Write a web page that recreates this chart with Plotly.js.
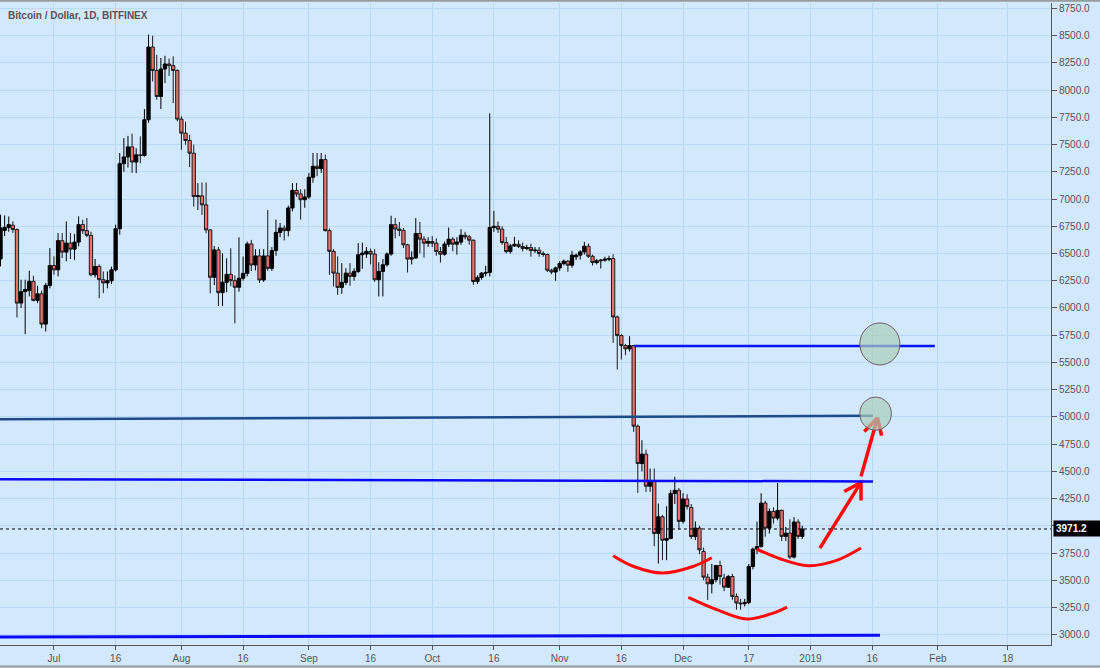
<!DOCTYPE html>
<html>
<head>
<meta charset="utf-8">
<script src="https://cdn.plot.ly/plotly-3.0.1.min.js"></script>
<style>
html,body{margin:0;padding:0;background:#d2e8fc;}
#chart{width:1100px;height:668px;}
</style>
</head>
<body>
<div id="chart"></div>
<script>
// ---- data (daily candles, Bitfinex BTC/USD, starting 2018-06-18) ----
const firstDay = [2018, 5, 18];
const opens = [
6450,6712,6740,6760,6720,6045,6150,6160,6245,6070,
6130,5852,6207,6390,6350,6618,6513,6596,6540,6605,
6765,6710,6667,6305,6382,6260,6230,6250,6350,6728,
7325,7387,7479,7340,7406,7400,7728,8396,8181,7942,
8194,8240,8225,8181,7734,7605,7538,7421,7023,7030,
6947,6717,6282,6533,6141,6236,6309,6251,6190,6273,
6318,6588,6395,6478,6257,6478,6364,6527,6694,6734,
6710,6918,7080,7047,6994,7019,7200,7301,7280,7362,
6710,6520,6320,6189,6235,6320,6290,6336,6489,6495,
6520,6495,6259,6336,6397,6495,6765,6725,6713,6580,
6449,6460,6684,6632,6595,6610,6595,6518,6494,6586,
6632,6586,6605,6668,6653,6622,6243,6280,6320,6326,
6739,6750,6724,6601,6518,6570,6585,6564,6546,6555,
6527,6531,6500,6491,6347,6330,6368,6408,6430,6393,
6470,6485,6515,6567,6475,6417,6433,6439,6448,6454,
5918,5747,5655,5625,5655,4915,4572,4658,4364,4413,
3930,4083,3868,3883,4297,4326,4041,4246,4169,3902,
3979,3765,3529,3468,3505,3636,3520,3437,3535,3352,
3291,3285,3297,3627,3786,3810,4209,3979,4132,4071,
4142,3903,3933,3713,4035,3903];
const highs = [
6857,6850,6840,6795,6730,6260,6260,6342,6296,6204,
6160,6230,6550,6474,6688,6688,6795,6690,6680,6841,
6810,6826,6700,6450,6400,6336,6336,6380,6765,7423,
7560,7580,7600,7467,7575,7826,8509,8500,8325,8295,
8316,8290,8310,8190,7760,7710,7590,7500,7146,7152,
7152,6720,6570,6560,6502,6456,6548,6300,6649,6472,
6610,6625,6540,6540,6540,6900,6560,6811,6780,6760,
6940,7148,7148,7090,7090,7240,7423,7423,7423,7408,
6730,6540,6474,6412,6365,6412,6365,6596,6600,6560,
6545,6540,6420,6450,6510,6847,6826,6790,6734,6590,
6520,6825,6790,6660,6650,6660,6640,6560,6610,6739,
6650,6650,6724,6700,6670,6630,6300,6330,6387,7787,
6892,6794,6750,6653,6590,6653,6622,6600,6580,6590,
6560,6560,6520,6500,6360,6380,6430,6445,6440,6524,
6500,6530,6607,6592,6490,6450,6450,6470,6480,6494,
5930,5760,5670,5741,5660,4930,4786,4700,4526,4526,
4205,4100,4180,4330,4450,4347,4300,4290,4200,4040,
4000,3800,3560,3650,3640,3680,3560,3550,3560,3380,
3330,3330,3650,3800,4040,4300,4230,4160,4170,4393,
4150,3990,4060,4080,4060,4000];
const lows = [
6382,6660,6700,6690,5913,6000,5760,6106,6060,6045,
5815,5784,6180,6305,6290,6458,6428,6450,6440,6566,
6680,6650,6290,6280,6090,6136,6180,6220,6335,6673,
7250,7290,7240,7238,7330,7390,7700,8080,7912,7826,
8065,8130,7881,7713,7452,7500,7293,6931,6900,6855,
6686,6135,6211,6018,6018,6145,6200,5860,6150,6250,
6290,6340,6345,6230,6240,6340,6340,6480,6650,6620,
6657,6887,7020,6811,6920,7000,7150,7210,7240,6703,
6305,6198,6121,6130,6210,6204,6250,6320,6360,6460,
6400,6240,6106,6106,6380,6480,6640,6660,6550,6325,
6400,6450,6500,6463,6560,6560,6480,6417,6480,6560,
6520,6490,6580,6630,6580,6212,6220,6260,6290,6290,
6700,6690,6580,6500,6500,6560,6550,6520,6530,6470,
6505,6470,6470,6330,6310,6250,6340,6390,6332,6370,
6440,6445,6490,6460,6390,6400,6362,6425,6430,5680,
5435,5527,5567,5600,4863,4303,4500,4312,4312,3813,
3654,3685,3685,3880,4200,3965,4020,4150,3880,3870,
3740,3500,3320,3380,3480,3460,3400,3430,3320,3230,
3230,3260,3280,3600,3740,3800,3900,3930,4020,4050,
3860,3860,3694,3700,3880,3880];
const closes = [
6735,6740,6765,6720,6045,6150,6170,6245,6070,6130,
5852,6207,6390,6350,6618,6513,6596,6540,6605,6765,
6710,6667,6305,6382,6260,6230,6250,6350,6728,7325,
7387,7479,7340,7406,7400,7728,8396,8181,7942,8194,
8240,8225,8181,7734,7605,7538,7421,7023,7030,6947,
6717,6282,6533,6141,6236,6309,6251,6190,6273,6318,
6588,6395,6478,6257,6478,6364,6527,6694,6734,6710,
6918,7080,7047,6994,7019,7200,7301,7280,7362,6710,
6520,6320,6189,6235,6320,6290,6336,6489,6504,6520,
6495,6259,6336,6397,6495,6765,6725,6713,6580,6449,
6460,6684,6632,6595,6610,6595,6518,6494,6586,6632,
6586,6605,6668,6653,6622,6243,6280,6320,6326,6739,
6750,6724,6601,6518,6570,6585,6564,6546,6555,6527,
6531,6500,6491,6347,6330,6368,6408,6430,6393,6485,
6485,6515,6567,6475,6417,6433,6439,6448,6454,5918,
5747,5655,5625,5655,4915,4572,4658,4364,4413,3930,
4083,3868,3883,4297,4326,4041,4246,4178,3902,3979,
3780,3529,3468,3505,3636,3535,3437,3535,3352,3291,
3285,3297,3627,3786,3810,4209,3979,4132,4071,4142,
3903,3933,3713,4035,3903,3971.2];

const lastPrice = 3971.2;
const xTickVals = ['2018-07-01','2018-07-16','2018-08-01','2018-08-16','2018-09-01','2018-09-16',
  '2018-10-01','2018-10-16','2018-11-01','2018-11-16','2018-12-01','2018-12-17',
  '2019-01-01','2019-01-16','2019-02-01','2019-02-18'];
const xTickText = ['Jul','16','Aug','16','Sep','16','Oct','16','Nov','16','Dec','17','2019','16','Feb','18'];
const yTickVals = [3000,3250,3500,3750,4000,4250,4500,4750,5000,5250,5500,5750,6000,6250,6500,6750,7000,7250,7500,7750,8000,8250,8500,8750];
const yTickText = ['3000.0','3250.0','3500.0','3750.0','','4250.0','4500.0','4750.0','5000.0','5250.0','5500.0','5750.0','6000.0','6250.0','6500.0','6750.0','7000.0','7250.0','7500.0','7750.0','8000.0','8250.0','8500.0','8750.0'];

// drawn levels (start date, start price, end date, end price)
const levelTop    = ['2018-11-19 02:00', 5652, '2019-01-31 06:00', 5652];
const levelNavy   = ['2018-06-17 21:00', 4979, '2019-01-16 05:00', 5011];
const levelBlue   = ['2018-06-17 21:00', 4428, '2019-01-16 05:00', 4408];
const levelBottom = ['2018-06-17 21:00', 2980, '2019-01-17 22:00', 2996];
// target circles (x0, x1, y0, y1)
const circleTop = ['2019-01-13 00:00', '2019-01-22 18:00', 5477, 5863];
const circleMid = ['2019-01-13 00:00', '2019-01-20 16:00', 4877, 5183];
// hand-drawn arcs
const arc1X = ['2018-11-14','2018-11-19','2018-11-26','2018-12-03 10:00','2018-12-08'];
const arc1Y = [3726,3627,3567,3627,3707];
const arc2X = ['2018-12-02 07:00','2018-12-09 05:00','2018-12-16 12:00','2018-12-22 22:00','2018-12-26 07:00'];
const arc2Y = [3343,3230,3144,3199,3254];
const arc3X = ['2018-12-18 22:00','2018-12-24 14:00','2018-12-31 10:00','2019-01-07 05:00','2019-01-13 07:00'];
const arc3Y = [3787,3698,3634,3680,3796];
// arrows: shaft start, tip, wing1, wing2
const arrow1X = ['2019-01-03 07:00','2019-01-13 07:00',null,'2019-01-09 05:00','2019-01-13 07:00','2019-01-13 07:00'];
const arrow1Y = [3796,4399,null,4316,4399,4233];
const arrow2X = ['2019-01-13 07:00','2019-01-17 07:00',null,'2019-01-14 02:00','2019-01-17 07:00','2019-01-18 07:00'];
const arrow2Y = [4454,4990,null,4867,4990,4828];

// ---- build ----
const dates = opens.map((_, i) => {
  const d = new Date(Date.UTC(firstDay[0], firstDay[1], firstDay[2] + i));
  return d.toISOString().slice(0, 10);
});

const RED = '#ff0a0a';
const traces = [
  {
    type: 'candlestick', x: dates, open: opens, high: highs, low: lows, close: closes,
    increasing: {line: {color: '#000000', width: 1}, fillcolor: '#000000'},
    decreasing: {line: {color: '#1a1a1a', width: 1}, fillcolor: '#f06e6c'},
    whiskerwidth: 0, hoverinfo: 'skip', showlegend: false
  },
  {type: 'scatter', mode: 'lines', x: arc1X, y: arc1Y, line: {color: RED, width: 3, shape: 'spline'}, hoverinfo: 'skip'},
  {type: 'scatter', mode: 'lines', x: arc2X, y: arc2Y, line: {color: RED, width: 3, shape: 'spline'}, hoverinfo: 'skip'},
  {type: 'scatter', mode: 'lines', x: arc3X, y: arc3Y, line: {color: RED, width: 3, shape: 'spline'}, hoverinfo: 'skip'},
  {type: 'scatter', mode: 'lines', x: arrow1X, y: arrow1Y, line: {color: RED, width: 3.5}, connectgaps: false, hoverinfo: 'skip'},
  {type: 'scatter', mode: 'lines', x: arrow2X, y: arrow2Y, line: {color: RED, width: 3.5}, connectgaps: false, hoverinfo: 'skip'}
];

function lvl(a, color, w) {
  return {type: 'line', xref: 'x', yref: 'y', x0: a[0], y0: a[1], x1: a[2], y1: a[3],
          line: {color: color, width: w}, layer: 'above'};
}
function circ(c) {
  return {type: 'circle', xref: 'x', yref: 'y', x0: c[0], x1: c[1], y0: c[2], y1: c[3],
          fillcolor: 'rgba(170,205,185,0.7)', line: {color: '#6e5d6e', width: 1}, layer: 'above'};
}

const shapes = [
  {type: 'line', xref: 'paper', yref: 'y', x0: 0, x1: 1, y0: lastPrice, y1: lastPrice,
   line: {color: '#000', width: 1, dash: 'dot'}, layer: 'above'},
  lvl(levelTop, '#0a14f0', 2.5),
  lvl(levelNavy, '#1d4a88', 2.5),
  lvl(levelBlue, '#0a0af5', 2.5),
  lvl(levelBottom, '#0a0af5', 3),
  circ(circleTop),
  circ(circleMid),
  {type: 'line', xref: 'paper', yref: 'paper', x0: 0, x1: 1.05, y0: 1.0035, y1: 1.0035,
   line: {color: '#9a9a9a', width: 2}},
  {type: 'line', xref: 'paper', yref: 'paper', x0: 0, x1: 1.05, y0: -0.0335, y1: -0.0335,
   line: {color: '#9a9a9a', width: 2}}
];

const layout = {
  width: 1100, height: 668,
  margin: {l: 0, r: 49, t: 3, b: 23, pad: 0},
  paper_bgcolor: '#d2e8fc', plot_bgcolor: '#d2e8fc',
  showlegend: false, hovermode: false,
  boxgap: 0.2, boxgroupgap: 0,
  font: {family: 'Liberation Sans, Arial, sans-serif', size: 10, color: '#555'},
  xaxis: {
    type: 'date', range: ['2018-06-17 21:00', '2019-02-28 12:00'],
    rangeslider: {visible: false},
    tickmode: 'array', tickvals: xTickVals, ticktext: xTickText,
    showgrid: true, gridcolor: '#b9d9f8', gridwidth: 1,
    ticks: 'outside', ticklen: 4, tickcolor: '#555',
    showline: true, linecolor: '#555', linewidth: 1,
    zeroline: false, fixedrange: true,
    tickfont: {size: 10, color: '#555'}
  },
  yaxis: {
    side: 'right', range: [2906, 8800],
    tickmode: 'array', tickvals: yTickVals, ticktext: yTickText,
    showgrid: true, gridcolor: '#b9d9f8', gridwidth: 1,
    ticks: 'outside', ticklen: 5, tickcolor: '#555',
    showline: true, linecolor: '#555', linewidth: 1,
    zeroline: false, fixedrange: true,
    tickfont: {size: 10, color: '#555'}
  },
  shapes: shapes,
  annotations: [
    {xref: 'paper', yref: 'paper', x: 0.006, y: 0.98, xanchor: 'left', yanchor: 'middle',
     text: '<b>Bitcoin / Dollar, 1D, BITFINEX</b>', showarrow: false,
     font: {family: 'Liberation Sans, Arial, sans-serif', size: 10, color: '#555'}},
    {xref: 'paper', yref: 'y', x: 1.002, y: lastPrice, xanchor: 'left', yanchor: 'middle',
     text: '<b>3971.2</b>', showarrow: false, bgcolor: '#000', borderpad: 2, width: 42, align: 'left',
     font: {family: 'Liberation Sans, Arial, sans-serif', size: 10, color: '#fff'}}
  ]
};

Plotly.newPlot('chart', traces, layout, {displayModeBar: false, staticPlot: true});
</script>
</body>
</html>
